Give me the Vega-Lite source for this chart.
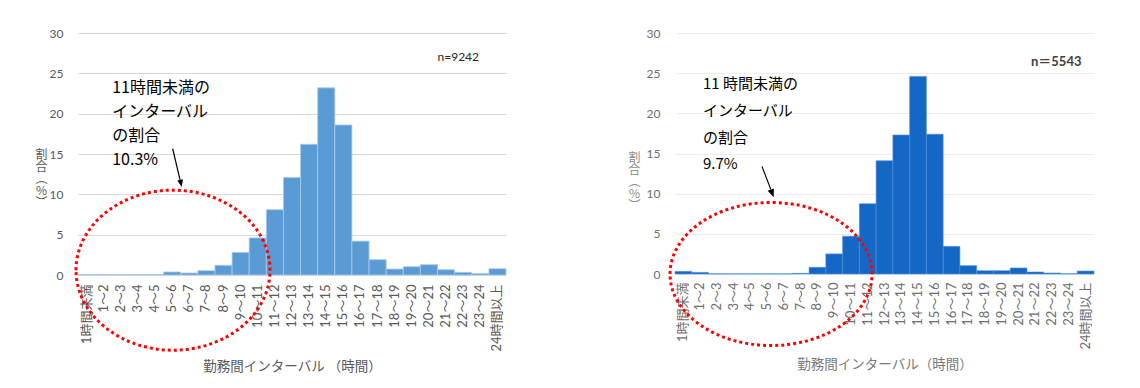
{
  "$schema": "https://vega.github.io/schema/vega-lite/v6.json",
  "background": "white",
  "padding": {"left": 34, "top": 27, "right": 5, "bottom": 5},
  "spacing": 120,
  "config": {
    "font": "Lato, 'Noto Sans CJK JP'",
    "view": {"stroke": null},
    "axis": {"labelFont": "Lato, 'Noto Sans CJK JP'", "titleFont": "'Noto Sans CJK JP'", "titleFontWeight": "normal"}
  },
  "datasets": {
    "a": [
      {"interval": "1時間未満", "pct": 0.05},
      {"interval": "1～2", "pct": 0.05},
      {"interval": "2～3", "pct": 0.05},
      {"interval": "3～4", "pct": 0.05},
      {"interval": "4～5", "pct": 0.05},
      {"interval": "5～6", "pct": 0.37},
      {"interval": "6～7", "pct": 0.25},
      {"interval": "7～8", "pct": 0.54},
      {"interval": "8～9", "pct": 1.2},
      {"interval": "9～10", "pct": 2.8},
      {"interval": "10～11", "pct": 4.6},
      {"interval": "11～12", "pct": 8.1},
      {"interval": "12～13", "pct": 12.1},
      {"interval": "13～14", "pct": 16.2},
      {"interval": "14～15", "pct": 23.2},
      {"interval": "15～16", "pct": 18.6},
      {"interval": "16～17", "pct": 4.2},
      {"interval": "17～18", "pct": 1.9},
      {"interval": "18～19", "pct": 0.74},
      {"interval": "19～20", "pct": 1.03},
      {"interval": "20～21", "pct": 1.28},
      {"interval": "21～22", "pct": 0.66},
      {"interval": "22～23", "pct": 0.33},
      {"interval": "23～24", "pct": 0.17},
      {"interval": "24時間以上", "pct": 0.78}
    ],
    "b": [
      {"interval": "1時間未満", "pct": 0.33},
      {"interval": "1～2", "pct": 0.2},
      {"interval": "2～3", "pct": 0.02},
      {"interval": "3～4", "pct": 0.02},
      {"interval": "4～5", "pct": 0.02},
      {"interval": "5～6", "pct": 0.02},
      {"interval": "6～7", "pct": 0.02},
      {"interval": "7～8", "pct": 0.08},
      {"interval": "8～9", "pct": 0.83},
      {"interval": "9～10", "pct": 2.5},
      {"interval": "10～11", "pct": 4.7},
      {"interval": "11～12", "pct": 8.75},
      {"interval": "12～13", "pct": 14.1},
      {"interval": "13～14", "pct": 17.3},
      {"interval": "14～15", "pct": 24.6},
      {"interval": "15～16", "pct": 17.4},
      {"interval": "16～17", "pct": 3.44},
      {"interval": "17～18", "pct": 1.04},
      {"interval": "18～19", "pct": 0.41},
      {"interval": "19～20", "pct": 0.41},
      {"interval": "20～21", "pct": 0.75},
      {"interval": "21～22", "pct": 0.25},
      {"interval": "22～23", "pct": 0.12},
      {"interval": "23～24", "pct": 0.04},
      {"interval": "24時間以上", "pct": 0.37}
    ]
  },
  "hconcat": [
    {
      "width": 428,
      "height": 242,
      "resolve": {"scale": {"x": "independent"}},
      "layer": [
        {
          "data": {"name": "a"},
          "mark": {"type": "bar", "fill": "#5B9BD5", "stroke": "#A9CBE9", "strokeWidth": 0.8},
          "encoding": {
            "x": {"field": "interval", "type": "nominal", "sort": null,
              "scale": {"paddingInner": 0, "paddingOuter": 0},
              "axis": {"title": "勤務間インターバル （時間）", "labelAngle": -90, "ticks": false, "domain": false,
                "labelPadding": 9, "titlePadding": 8, "labelFontSize": 13, "titleFontSize": 13.5,
                "labelColor": "#595959", "titleColor": "#595959"}},
            "y": {"field": "pct", "type": "quantitative", "scale": {"domain": [0, 30]},
              "axis": {"values": [0, 5, 10, 15, 20, 25, 30], "title": ["割", "合", "︵", "%", "︶"],
                "grid": true, "gridColor": "#D9D9D9", "domain": false, "ticks": false, "labelPadding": 15,
                "labelFontSize": 12, "labelColor": "#595959", "titleColor": "#595959", "titleFontSize": 12,
                "titleAngle": 0.01, "titleX": -37, "titleY": 122, "titleAlign": "center", "titleBaseline": "middle",
                "titleLineHeight": 12}}
          }
        },
        {
          "data": {"values": [{}]},
          "mark": {"type": "point", "shape": "M -1 0 C -1 -0.4556 -0.5523 -0.825 0 -0.825 C 0.5523 -0.825 1 -0.4556 1 0 C 1 0.4556 0.5523 0.825 0 0.825 C -0.5523 0.825 -1 0.4556 -1 0 Z",
            "size": 37636, "filled": false, "stroke": "#FF0000", "strokeWidth": 3, "strokeDash": [3, 3], "opacity": 1},
          "encoding": {
            "x": {"datum": 5.55, "type": "quantitative", "scale": {"domain": [0, 25]}, "axis": null},
            "y": {"datum": 0.6, "type": "quantitative"}
          }
        },
        {
          "data": {"values": [{}]},
          "mark": {"type": "rule", "stroke": "#000000", "strokeWidth": 1.2},
          "encoding": {
            "x": {"datum": 5.53, "type": "quantitative", "scale": {"domain": [0, 25]}, "axis": null},
            "y": {"datum": 15.65, "type": "quantitative"},
            "x2": {"datum": 5.96},
            "y2": {"datum": 11.78}
          }
        },
        {
          "data": {"values": [{}]},
          "mark": {"type": "point", "shape": "M 0 0 L -0.4 -1 L 0.4 -1 Z", "size": 213, "filled": true, "fill": "#000000", "opacity": 1, "angle": -13},
          "encoding": {
            "x": {"datum": 6.06, "type": "quantitative", "scale": {"domain": [0, 25]}, "axis": null},
            "y": {"datum": 10.9, "type": "quantitative"}
          }
        },
        {
          "data": {"values": [{}]},
          "mark": {"type": "text", "text": ["11時間未満の", "インターバル", "の割合", "10.3%"], "align": "left", "baseline": "top",
            "font": "'Noto Sans CJK JP'", "fontSize": 16, "lineHeight": 24, "color": "#000000"},
          "encoding": {
            "x": {"datum": 2, "type": "quantitative", "scale": {"domain": [0, 25]}, "axis": null},
            "y": {"datum": 24.2, "type": "quantitative"}
          }
        },
        {
          "data": {"values": [{}]},
          "mark": {"type": "text", "text": "n=9242", "align": "left", "baseline": "middle", "fontSize": 12, "color": "#262626"},
          "encoding": {
            "x": {"datum": 21, "type": "quantitative", "scale": {"domain": [0, 25]}, "axis": null},
            "y": {"datum": 27, "type": "quantitative"}
          }
        }
      ]
    },
    {
      "width": 419,
      "height": 241,
      "resolve": {"scale": {"x": "independent"}},
      "layer": [
        {
          "data": {"name": "b"},
          "mark": {"type": "bar", "fill": "#1467C4", "stroke": "#4F8FD6", "strokeWidth": 0.6},
          "encoding": {
            "x": {"field": "interval", "type": "nominal", "sort": null,
              "scale": {"paddingInner": 0, "paddingOuter": 0},
              "axis": {"title": "勤務間インターバル（時間）", "labelAngle": -90, "ticks": false, "domain": false,
                "labelPadding": 8, "titlePadding": 8, "labelFontSize": 13, "titleFontSize": 13.5,
                "labelColor": "#6E6E6E", "titleColor": "#7A7A7A"}},
            "y": {"field": "pct", "type": "quantitative", "scale": {"domain": [0, 30]},
              "axis": {"values": [0, 5, 10, 15, 20, 25, 30], "title": ["割", "合", "︵", "%", "︶"],
                "grid": true, "gridColor": "#EDEDED", "domain": false, "ticks": false, "labelPadding": 15,
                "labelFontSize": 12, "labelColor": "#6E6E6E", "titleColor": "#8A8A8A", "titleFontSize": 12,
                "titleAngle": 0.01, "titleX": -41, "titleY": 125, "titleAlign": "center", "titleBaseline": "middle",
                "titleLineHeight": 12}}
          }
        },
        {
          "data": {"values": [{}]},
          "mark": {"type": "point", "shape": "M -1 0 C -1 -0.391 -0.5523 -0.708 0 -0.708 C 0.5523 -0.708 1 -0.391 1 0 C 1 0.391 0.5523 0.708 0 0.708 C -0.5523 0.708 -1 0.391 -1 0 Z",
            "size": 40804, "filled": false, "stroke": "#FF0000", "strokeWidth": 3, "strokeDash": [3, 3], "opacity": 1},
          "encoding": {
            "x": {"datum": 5.73, "type": "quantitative", "scale": {"domain": [0, 25]}, "axis": null},
            "y": {"datum": 0, "type": "quantitative"}
          }
        },
        {
          "data": {"values": [{}]},
          "mark": {"type": "rule", "stroke": "#000000", "strokeWidth": 1.2},
          "encoding": {
            "x": {"datum": 5.19, "type": "quantitative", "scale": {"domain": [0, 25]}, "axis": null},
            "y": {"datum": 13.4, "type": "quantitative"},
            "x2": {"datum": 5.72},
            "y2": {"datum": 10.5}
          }
        },
        {
          "data": {"values": [{}]},
          "mark": {"type": "point", "shape": "M 0 0 L -0.4 -1 L 0.4 -1 Z", "size": 276, "filled": true, "fill": "#000000", "opacity": 1, "angle": -21},
          "encoding": {
            "x": {"datum": 5.89, "type": "quantitative", "scale": {"domain": [0, 25]}, "axis": null},
            "y": {"datum": 9.54, "type": "quantitative"}
          }
        },
        {
          "data": {"values": [{}]},
          "mark": {"type": "text", "text": ["11 時間未満の", "インターバル", "の割合", "9.7%"], "align": "left", "baseline": "top",
            "font": "'Noto Sans CJK JP'", "fontSize": 15, "lineHeight": 26.7, "color": "#000000"},
          "encoding": {
            "x": {"datum": 1.67, "type": "quantitative", "scale": {"domain": [0, 25]}, "axis": null},
            "y": {"datum": 24.5, "type": "quantitative"}
          }
        },
        {
          "data": {"values": [{}]},
          "mark": {"type": "text", "text": "n＝5543", "align": "left", "baseline": "middle", "fontSize": 13, "fontWeight": "bold", "color": "#404040"},
          "encoding": {
            "x": {"datum": 21.24, "type": "quantitative", "scale": {"domain": [0, 25]}, "axis": null},
            "y": {"datum": 26.4, "type": "quantitative"}
          }
        }
      ]
    }
  ]
}
